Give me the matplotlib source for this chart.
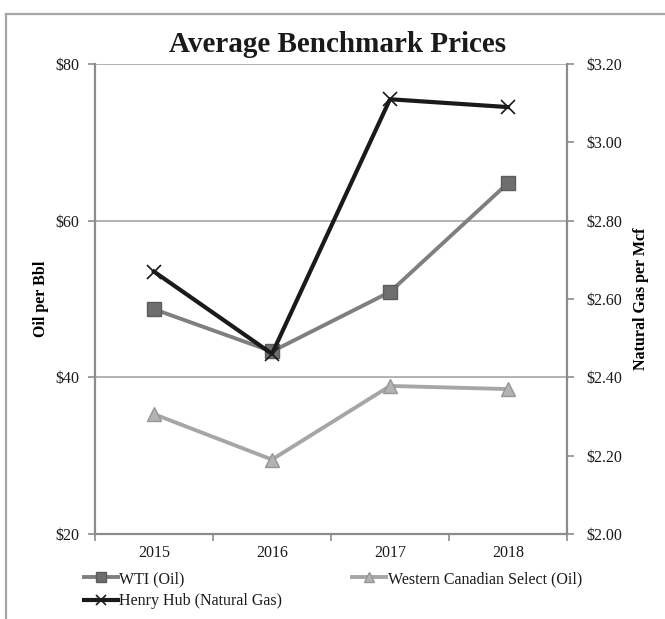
import matplotlib
matplotlib.use("Agg")
import matplotlib.pyplot as plt
from matplotlib.lines import Line2D

# Annual average benchmark prices
years = ["2015", "2016", "2017", "2018"]
wti = [48.7, 43.3, 50.9, 64.8]          # $/bbl
wcs = [35.3, 29.5, 38.9, 38.5]          # $/bbl
henry_hub = [2.67, 2.46, 3.11, 3.09]    # $/Mcf

oil_ticks = [20, 40, 60, 80]
gas_ticks = [2.00, 2.20, 2.40, 2.60, 2.80, 3.00, 3.20]

plt.rcParams["font.family"] = ["Liberation Serif", "DejaVu Serif"]

W, H = 665, 619
fig = plt.figure(figsize=(W / 100, H / 100), dpi=100)

# outer chart frame (left and top edges visible)
fig.add_artist(Line2D([6 / W, 6 / W], [0, 1 - 14 / H], color="#a6a6a6", lw=1.6))
fig.add_artist(Line2D([6 / W, 1], [1 - 14 / H, 1 - 14 / H], color="#a6a6a6", lw=1.6))

L, R, T, B = 95, 567, 64, 534
ax = fig.add_axes([L / W, 1 - B / H, (R - L) / W, (B - T) / H])
ax2 = ax.twinx()

axis_col = "#8c8c8c"
grid_col = "#a6a6a6"
text_col = "#1a1a1a"
x = list(range(len(years)))

ax.set_xlim(-0.5, len(years) - 0.5)
ax.set_ylim(20, 80)
ax2.set_ylim(2.0, 3.2)

for a in (ax, ax2):
    for s in a.spines.values():
        s.set_visible(False)
ax.spines["left"].set_visible(True)
ax.spines["bottom"].set_visible(True)
ax2.spines["right"].set_visible(True)
for s in (ax.spines["left"], ax.spines["bottom"], ax2.spines["right"]):
    s.set_color(axis_col)
    s.set_linewidth(1.6)

ax.set_yticks(oil_ticks)
ax.set_yticklabels([f"${v}" for v in oil_ticks])
for v in oil_ticks[1:]:
    ax.axhline(v, color=grid_col, lw=1.2, zorder=0)

ax2.set_yticks(gas_ticks)
ax2.set_yticklabels([f"${v:.2f}" for v in gas_ticks])

ax.set_xticks([i - 0.5 for i in range(len(years) + 1)])
ax.set_xticklabels([])
ax.set_xticks(x, minor=True)
ax.set_xticklabels(years, minor=True)
ax.tick_params(axis="x", which="major", direction="out", length=5, color=axis_col, width=1.2)
ax.tick_params(axis="x", which="minor", length=0, pad=8, labelsize=11.5, labelcolor=text_col)
ax.tick_params(axis="y", direction="out", length=5, color=axis_col, width=1.2, pad=6,
               labelsize=11.5, labelcolor=text_col)
ax2.tick_params(axis="y", direction="out", length=5, color=axis_col, width=1.2, pad=9,
                labelsize=11.5, labelcolor=text_col)

ax.plot(x, wti, color="#7f7f7f", lw=2.8, marker="s", markersize=9.5,
        markerfacecolor="#6e6e6e", markeredgecolor="#5c5c5c", zorder=3, label="WTI (Oil)")
ax.plot(x, wcs, color="#a6a6a6", lw=2.8, marker="^", markersize=10,
        markerfacecolor="#b3b3b3", markeredgecolor="#969696", zorder=3,
        label="Western Canadian Select (Oil)")
ax2.plot(x, henry_hub, color=text_col, lw=3.0, marker="x", markersize=10,
         markeredgewidth=1.2, markeredgecolor=text_col, zorder=4,
         label="Henry Hub (Natural Gas)")

ax.set_ylabel("Oil per Bbl", fontsize=11.5, fontweight="bold", labelpad=5)
ax2.set_ylabel("Natural Gas per Mcf", fontsize=11.5, fontweight="bold", labelpad=8)

fig.text(338 / W, 1 - 45 / H, "Average Benchmark Prices", ha="center", va="center",
         fontsize=21, fontweight="bold", color=text_col)

# legend filled row by row: WTI, WCS / Henry Hub
h1, l1 = ax.get_legend_handles_labels()
h2, l2 = ax2.get_legend_handles_labels()
handles = [h1[0], h2[0], h1[1]]
labels = [l1[0], l2[0], l1[1]]
leg = fig.legend(handles, labels, loc="upper left", bbox_to_anchor=(84 / W, 1 - 571 / H),
                 ncol=2, frameon=False, fontsize=11.5, handlelength=2.1, handletextpad=0.1,
                 columnspacing=4.4, labelspacing=0.4, borderaxespad=0, borderpad=0,
                 markerscale=0.75)
for t in leg.get_texts():
    t.set_color(text_col)

fig.savefig("out.png", dpi=100)
